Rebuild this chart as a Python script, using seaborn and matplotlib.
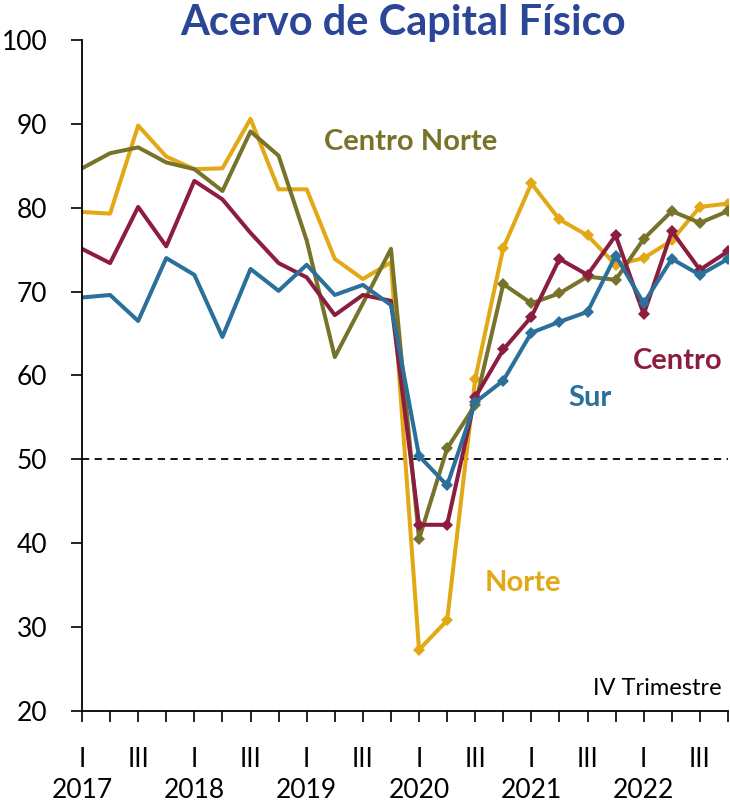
import numpy as np
import pandas as pd
import matplotlib.pyplot as plt
import matplotlib.transforms as mtransforms
import seaborn as sns

# trimestres 2017-I a 2022-IV
years = [2017, 2018, 2019, 2020, 2021, 2022]
quarters = ["I", "II", "III", "IV"]

norte = [79.5, 79.3, 89.8, 86.1, 84.6, 84.7, 90.6, 82.2, 82.2, 73.9, 71.5, 73.5,
         27.3, 30.8, 59.6, 75.2, 82.9, 78.6, 76.7, 73.2, 74.0, 76.1, 80.1, 80.5]
centro_norte = [84.7, 86.5, 87.2, 85.4, 84.6, 82.0, 89.1, 86.2, 76.1, 62.2, 68.6, 75.1,
                40.5, 51.3, 56.5, 70.9, 68.6, 69.8, 71.8, 71.4, 76.3, 79.6, 78.2, 79.6]
centro = [75.1, 73.4, 80.1, 75.4, 83.2, 81.0, 77.0, 73.4, 71.7, 67.2, 69.6, 68.9,
          42.2, 42.2, 57.4, 63.1, 67.0, 73.9, 72.0, 76.7, 67.3, 77.2, 72.6, 74.8]
sur = [69.3, 69.6, 66.5, 74.0, 72.0, 64.6, 72.7, 70.1, 73.2, 69.6, 70.8, 68.4,
       50.4, 46.9, 56.8, 59.4, 65.1, 66.4, 67.6, 74.3, 68.6, 73.9, 72.0, 73.9]

series = {"Norte": norte, "Centro Norte": centro_norte, "Centro": centro, "Sur": sur}
colores = {"Norte": "#E3A815", "Centro Norte": "#77732A",
           "Centro": "#8C1D3E", "Sur": "#2B6F9B"}

n = len(norte)
df = pd.concat([pd.DataFrame({"t": np.arange(n), "valor": v, "region": k})
                for k, v in series.items()])

sns.set_style("ticks")
plt.rcParams["font.family"] = ["Lato", "DejaVu Sans"]

fig = plt.figure(figsize=(7.3, 8.08), dpi=100)
ax = fig.add_axes([82 / 730, 1 - 711 / 808, 646 / 730, 671 / 808])

for region in series:
    sub = df[df["region"] == region]
    sns.lineplot(data=sub, x="t", y="valor", ax=ax, color=colores[region],
                 linewidth=2.9, marker="D", markersize=6, markeredgewidth=0,
                 markevery=list(range(12, n)), legend=False)

ax.axhline(50, color="black", linestyle=(0, (4, 3)), linewidth=1.3, zorder=0)

ax.set_xlim(0, n - 1)
ax.set_ylim(20, 100)
ax.set_yticks(range(20, 101, 10))
ax.set_xticks(range(n))
ax.set_xticklabels([q if q in ("I", "III") else "" for q in
                    [quarters[i % 4] for i in range(n)]])
ax.tick_params(axis="both", labelsize=19, length=8, width=1.2, color="black",
               labelcolor="black")
ax.tick_params(axis="x", pad=18)
ax.tick_params(axis="y", pad=17)
ax.set_xlabel("")
ax.set_ylabel("")
for s in ["top", "right"]:
    ax.spines[s].set_visible(False)
for s in ["left", "bottom"]:
    ax.spines[s].set_color("black")
    ax.spines[s].set_linewidth(1.3)

# años bajo el primer trimestre
trans = mtransforms.blended_transform_factory(ax.transData, fig.transFigure)
for k, yr in enumerate(years):
    ax.text(4 * k, 1 - 790 / 808, str(yr), transform=trans, fontsize=19,
            ha="center", va="center", color="black")

# etiquetas de las series
ax.text(11.7, 87.8, "Centro Norte", color=colores["Centro Norte"], fontsize=21,
        fontweight="bold", ha="center", va="center")
ax.text(21.2, 61.7, "Centro", color=colores["Centro"], fontsize=21,
        fontweight="bold", ha="center", va="center")
ax.text(18.1, 57.3, "Sur", color=colores["Sur"], fontsize=21,
        fontweight="bold", ha="center", va="center")
ax.text(15.7, 35.3, "Norte", color=colores["Norte"], fontsize=21,
        fontweight="bold", ha="center", va="center")
ax.text(0.99, 0.018, "IV Trimestre", transform=ax.transAxes, fontsize=17,
        ha="right", va="bottom", color="black")

fig.text(403 / 730, 1 - 23 / 808, "Acervo de Capital Físico", fontsize=30,
         fontweight="bold", color="#2B4597", ha="center", va="center")

fig.savefig("out.png", dpi=100)
